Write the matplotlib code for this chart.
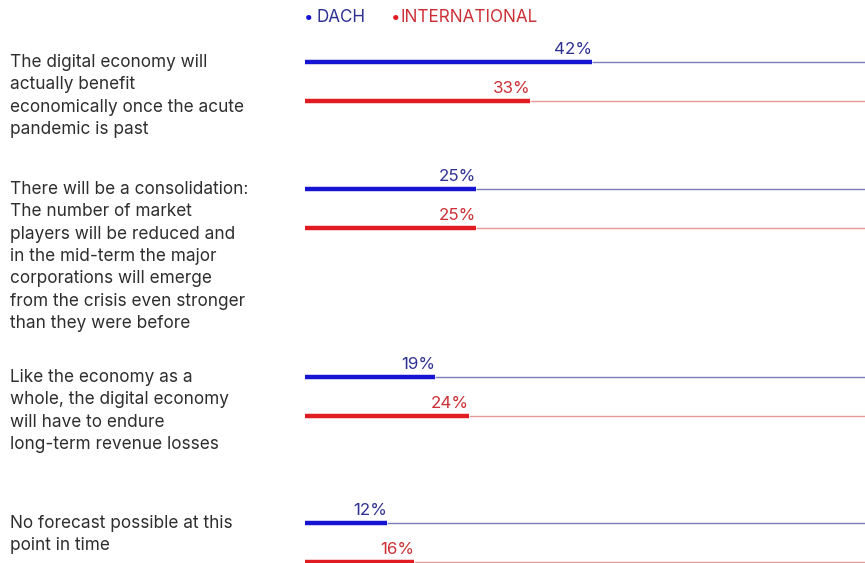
import matplotlib
matplotlib.use('Agg')
import matplotlib.pyplot as plt

# ── Data ──────────────────────────────────────────────────────────────────────
statements = [
    'The digital economy will\nactually benefit\neconomically once the acute\npandemic is past',
    'There will be a consolidation:\nThe number of market\nplayers will be reduced and\nin the mid-term the major\ncorporations will emerge\nfrom the crisis even stronger\nthan they were before',
    'Like the economy as a\nwhole, the digital economy\nwill have to endure\nlong-term revenue losses',
    'No forecast possible at this\npoint in time',
]
dach = [42, 25, 19, 12]
international = [33, 25, 24, 16]

# ── Layout (pixels, figure 865x563) ───────────────────────────────────────────
W, H = 865, 563
X0 = 305
ROW_Y = [62, 189, 377, 523]     # y of DACH bar for each statement
PAIR_GAP = 39                   # DACH -> INTERNATIONAL bar
XMAX = 82                       # % shown at right edge

BLUE, BLUE_TXT, BLUE_THIN = '#1414d2', '#2e3192', '#7c7cb8'
RED, RED_TXT, RED_THIN = '#e11b22', '#cc2f35', '#e89a9a'
GREY_TXT = '#2e2e2e'

plt.rcParams['font.family'] = ['Inter', 'DejaVu Sans']

fig = plt.figure(figsize=(W / 100, H / 100), dpi=100)
ax = fig.add_axes([X0 / W, 0, 1 - X0 / W, 1])
ax.set_xlim(0, XMAX)
ax.set_ylim(H, 0)
ax.axis('off')

for i, text in enumerate(statements):
    y_d = ROW_Y[i]
    y_i = y_d + PAIR_GAP
    for y, v, c, ct, cthin in [(y_d, dach[i], BLUE, BLUE_TXT, BLUE_THIN),
                               (y_i, international[i], RED, RED_TXT, RED_THIN)]:
        ax.plot([v, 100], [y, y], color=cthin, lw=1.0, solid_capstyle='butt',
                clip_on=True)
        ax.plot([0, v], [y, y], color=c, lw=3.2, solid_capstyle='butt',
                clip_on=True)
        ax.annotate(f'{v}%', (v, y), xytext=(0, 3.5), textcoords='offset points',
                    ha='right', va='bottom', fontsize=12.2, color=ct)
    fig.text(10 / W, 1 - (y_d - 8) / H, text, ha='left', va='top',
             fontsize=12.4, color=GREY_TXT, linespacing=1.41)

# legend
fig.text((X0 - 1) / W, 1 - 17 / H, '•', ha='left', va='center', fontsize=12, color=BLUE)
fig.text((X0 + 11) / W, 1 - 17 / H, 'DACH', ha='left', va='center',
         fontsize=12.3, color=BLUE_TXT)
fig.text(391 / W, 1 - 17 / H, '•', ha='left', va='center', fontsize=12, color=RED)
fig.text(401 / W, 1 - 17 / H, 'INTERNATIONAL', ha='left', va='center',
         fontsize=12.3, color=RED_TXT)

fig.savefig('out.png', dpi=100, facecolor='white')
